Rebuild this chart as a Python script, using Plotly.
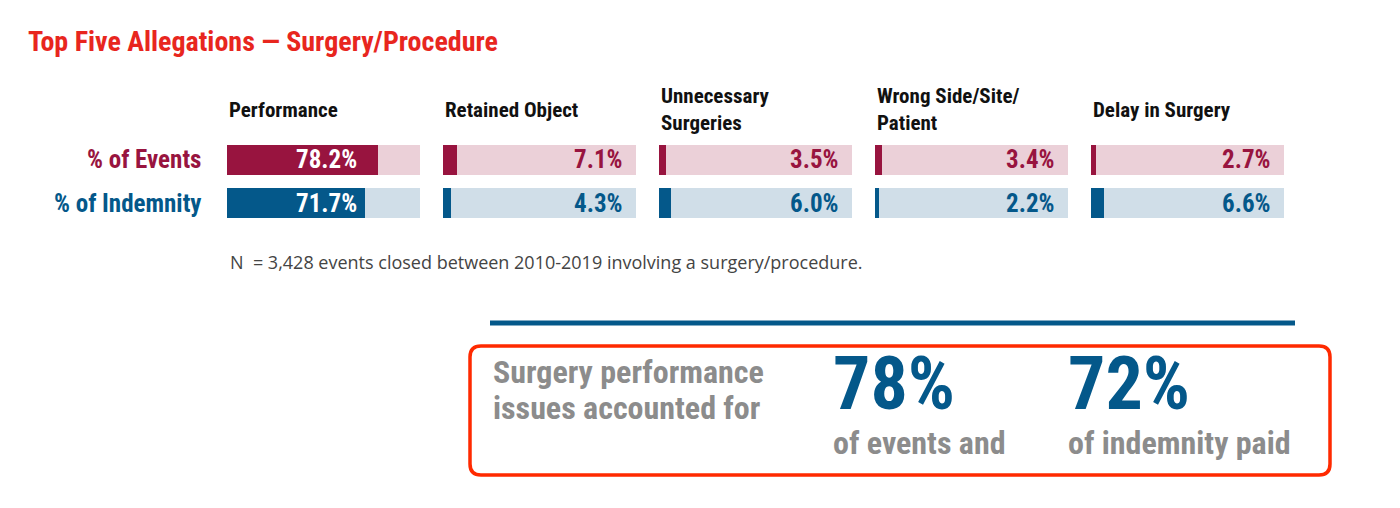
import plotly.graph_objects as go
from plotly.subplots import make_subplots

# %%
categories = ["Performance", "Retained Object", "Unnecessary<br>Surgeries",
              "Wrong Side/Site/<br>Patient", "Delay in Surgery"]
pct_events = [78.2, 7.1, 3.5, 3.4, 2.7]
pct_indemnity = [71.7, 4.3, 6.0, 2.2, 6.6]
row_labels = ["% of Events", "% of Indemnity"]
footnote = "N  = 3,428 events closed between 2010-2019 involving a surgery/procedure."
headline_events = "78%"
headline_indemnity = "72%"

# %%
W, H = 1400, 508
OFF = 8  # page body margin
NARROW = "Roboto Condensed, Roboto, sans-serif"
RED_TITLE = "#e8261e"
EV_COL, EV_TRACK = "#98143f", "#ebd0d8"
IN_COL, IN_TRACK = "#04588a", "#d0dee8"
GRAY = "#8c8c8c"


def px(x):
    return (x - OFF) / W


def py(y):
    return 1 - (y - OFF) / H


fig = make_subplots(rows=1, cols=5)

left0, pitch, width = 227, 216, 193
for i in range(5):
    col = i + 1
    fig.add_trace(go.Bar(x=[100, 100], y=[1, 0], orientation="h", width=0.7,
                         marker=dict(color=[EV_TRACK, IN_TRACK], line_width=0),
                         hoverinfo="skip", showlegend=False), row=1, col=col)
    fig.add_trace(go.Bar(x=[pct_events[i], pct_indemnity[i]], y=[1, 0], orientation="h",
                         width=0.7, marker=dict(color=[EV_COL, IN_COL], line_width=0),
                         showlegend=False), row=1, col=col)
    xa = "xaxis" if i == 0 else f"xaxis{col}"
    ya = "yaxis" if i == 0 else f"yaxis{col}"
    l = left0 + i * pitch
    fig.layout[xa].update(domain=[px(l), px(l + width)], range=[0, 100], visible=False,
                          fixedrange=True)
    fig.layout[ya].update(domain=[py(224.75), py(137.75)], range=[-0.5, 1.5],
                          visible=False, fixedrange=True)

    xref = "x" if i == 0 else f"x{col}"
    yref = "y" if i == 0 else f"y{col}"
    # header
    fig.add_annotation(text=f"<b>{categories[i]}</b>", xref="paper", yref="paper",
                       x=px(l), y=py(110), xanchor="left", yanchor="middle",
                       align="left", showarrow=False,
                       font=dict(family=NARROW, size=21, color="#111111"))
    # values
    big = min(pct_events[i], pct_indemnity[i]) > 50
    for yv, val, c in [(1, pct_events[i], EV_COL), (0, pct_indemnity[i], IN_COL)]:
        if big:
            xv, xs, fc = min(pct_events[i], pct_indemnity[i]), -6, "white"
        else:
            xv, xs, fc = 100, -11, c
        fig.add_annotation(text=f"<b>{val:.1f}%</b>", xref=xref, yref=yref, x=xv, y=yv,
                           xanchor="right", yanchor="middle", xshift=xs, showarrow=False,
                           font=dict(family=NARROW, size=25, color=fc))

# row labels
for yv, lab, c in [(159.5, row_labels[0], EV_COL), (203, row_labels[1], IN_COL)]:
    fig.add_annotation(text=f"<b>{lab}</b>", xref="paper", yref="paper", x=px(203),
                       y=py(yv), xanchor="right", yanchor="middle", showarrow=False,
                       font=dict(family=NARROW, size=25, color=c))

# title
fig.add_annotation(text="<b>Top Five Allegations — Surgery/Procedure</b>", xref="paper",
                   yref="paper", x=px(26), y=py(42), xanchor="left", yanchor="middle",
                   showarrow=False, font=dict(family=NARROW, size=28, color=RED_TITLE))

# footnote
fig.add_annotation(text=footnote, xref="paper", yref="paper", x=px(228), y=py(262),
                   xanchor="left", yanchor="middle", showarrow=False,
                   font=dict(family="Open Sans, sans-serif", size=18, color="#444444"))

# blue rule
fig.add_shape(type="line", xref="paper", yref="paper", x0=px(490), x1=px(1295),
              y0=py(323), y1=py(323), line=dict(color=IN_COL, width=5))

# rounded red box
x0, x1, y0, y1, r = 470, 1330, 346, 475, 11
path = (f"M {px(x0 + r)},{py(y0)} L {px(x1 - r)},{py(y0)} "
        f"Q {px(x1)},{py(y0)} {px(x1)},{py(y0 + r)} L {px(x1)},{py(y1 - r)} "
        f"Q {px(x1)},{py(y1)} {px(x1 - r)},{py(y1)} L {px(x0 + r)},{py(y1)} "
        f"Q {px(x0)},{py(y1)} {px(x0)},{py(y1 - r)} L {px(x0)},{py(y0 + r)} "
        f"Q {px(x0)},{py(y0)} {px(x0 + r)},{py(y0)} Z")
fig.add_shape(type="path", xref="paper", yref="paper", path=path,
              line=dict(color="#ff2a00", width=3.5))

for yv, line in [(372, "Surgery performance"), (408, "issues accounted for")]:
    fig.add_annotation(text=f"<b>{line}</b>", xref="paper", yref="paper", x=px(491),
                       y=py(yv), xanchor="left", yanchor="middle", showarrow=False,
                       font=dict(family=NARROW, size=32, color=GRAY))
for xp, big_txt, small_txt in [(831, headline_events, "of events and"),
                               (1066, headline_indemnity, "of indemnity paid")]:
    fig.add_annotation(text=f"<b>{big_txt}</b>", xref="paper", yref="paper", x=px(xp),
                       y=py(383), xanchor="left", yanchor="middle", showarrow=False,
                       font=dict(family=NARROW, size=74, color=IN_COL))
    fig.add_annotation(text=f"<b>{small_txt}</b>", xref="paper", yref="paper", x=px(xp),
                       y=py(443), xanchor="left", yanchor="middle", showarrow=False,
                       font=dict(family=NARROW, size=32, color=GRAY))

fig.update_layout(width=W, height=H, margin=dict(l=0, r=0, t=0, b=0),
                  paper_bgcolor="white", plot_bgcolor="white", barmode="overlay",
                  bargap=0, showlegend=False)

fig.write_html("out.html")
